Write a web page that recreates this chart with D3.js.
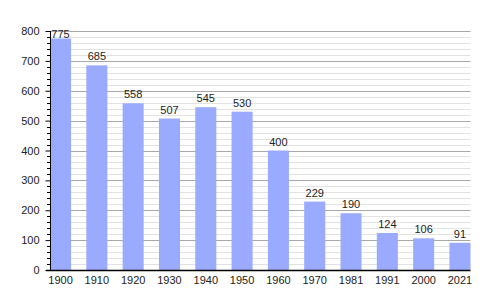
<!DOCTYPE html>
<html>
<head>
<meta charset="utf-8">
<script src="https://cdn.jsdelivr.net/npm/d3@7"></script>
<style>
  body { margin: 0; background: #fff; }
  svg { display: block; font-family: "Liberation Sans", Arial, sans-serif; }
</style>
</head>
<body>
<svg id="chart" width="500" height="300"></svg>
<script>
// Data
const years = ["1900", "1910", "1920", "1930", "1940", "1950", "1960", "1970", "1981", "1991", "2000", "2021"];
const population = [775, 685, 558, 507, 545, 530, 400, 229, 190, 124, 106, 91];
const yTicks = [0, 100, 200, 300, 400, 500, 600, 700, 800];

const svg = d3.select('#chart');
const plotLeft = 50, plotRight = 470.5, plotTop = 31, plotBottom = 270;

const x = d3.scaleBand()
  .domain(years)
  .range([plotLeft, plotRight])
  .paddingInner(0.42)
  .paddingOuter(0)
  .align(0);

const y = d3.scaleLinear()
  .domain([0, 800])
  .range([plotBottom, plotTop]);

// minor grid every 20
const minor = d3.range(20, 800, 20).filter(v => v % 100 !== 0);
svg.append("g")
  .selectAll("line")
  .data(minor)
  .join("line")
  .attr("x1", plotLeft).attr("x2", plotRight)
  .attr("y1", d => Math.round(y(d)) + 0.5)
  .attr("y2", d => Math.round(y(d)) + 0.5)
  .style("stroke", "#e2e2e2")
  .style("stroke-width", 1);

// major grid every 100
svg.append("g")
  .selectAll("line")
  .data(yTicks.filter(v => v > 0))
  .join("line")
  .attr("x1", plotLeft).attr("x2", plotRight)
  .attr("y1", d => Math.round(y(d)) + 0.5)
  .attr("y2", d => Math.round(y(d)) + 0.5)
  .style("stroke", "#a8a8a8")
  .style("stroke-width", 1);

// bars
svg.append("g")
  .selectAll("rect")
  .data(population)
  .join("rect")
  .attr("x", (d, i) => x(years[i]))
  .attr("y", d => y(d))
  .attr("width", x.bandwidth())
  .attr("height", d => plotBottom - y(d))
  .style("fill", "#9aabff");

// value labels
svg.append("g")
  .selectAll("text")
  .data(population)
  .join("text")
  .attr("x", (d, i) => x(years[i]) + x.bandwidth() / 2)
  .attr("y", d => Math.max(y(d) - 5, 38))
  .attr("text-anchor", "middle")
  .style("font-size", "11px")
  .style("fill", "#222")
  .text(d => d);

// y axis with minor ticks
const yAxis = svg.append("g")
  .attr("transform", `translate(${plotLeft + 0.5},0)`)
  .call(d3.axisLeft(y).tickValues(yTicks).tickSize(5).tickPadding(6));
yAxis.select(".domain").remove();
yAxis.selectAll("text").style("font-size", "11px").style("fill", "#222").style("font-family", "Liberation Sans, Arial, sans-serif");

svg.append("g")
  .selectAll("line")
  .data(minor)
  .join("line")
  .attr("x1", plotLeft - 3).attr("x2", plotLeft)
  .attr("y1", d => Math.round(y(d)) + 0.5)
  .attr("y2", d => Math.round(y(d)) + 0.5)
  .style("stroke", "#000");

svg.append("line")
  .attr("x1", plotLeft + 0.5).attr("x2", plotLeft + 0.5)
  .attr("y1", plotTop).attr("y2", plotBottom)
  .style("stroke", "#000");

// x axis
const xAxis = svg.append("g")
  .attr("transform", `translate(0,${plotBottom + 0.5})`)
  .call(d3.axisBottom(x).tickSize(0).tickPadding(6));
xAxis.select(".domain").remove();
xAxis.selectAll("text").style("font-size", "11px").style("fill", "#222").style("font-family", "Liberation Sans, Arial, sans-serif");

svg.append("line")
  .attr("x1", plotLeft - 4).attr("x2", plotRight)
  .attr("y1", plotBottom + 0.5).attr("y2", plotBottom + 0.5)
  .style("stroke", "#000")
  .style("stroke-width", 1.5);
</script>
</body>
</html>
